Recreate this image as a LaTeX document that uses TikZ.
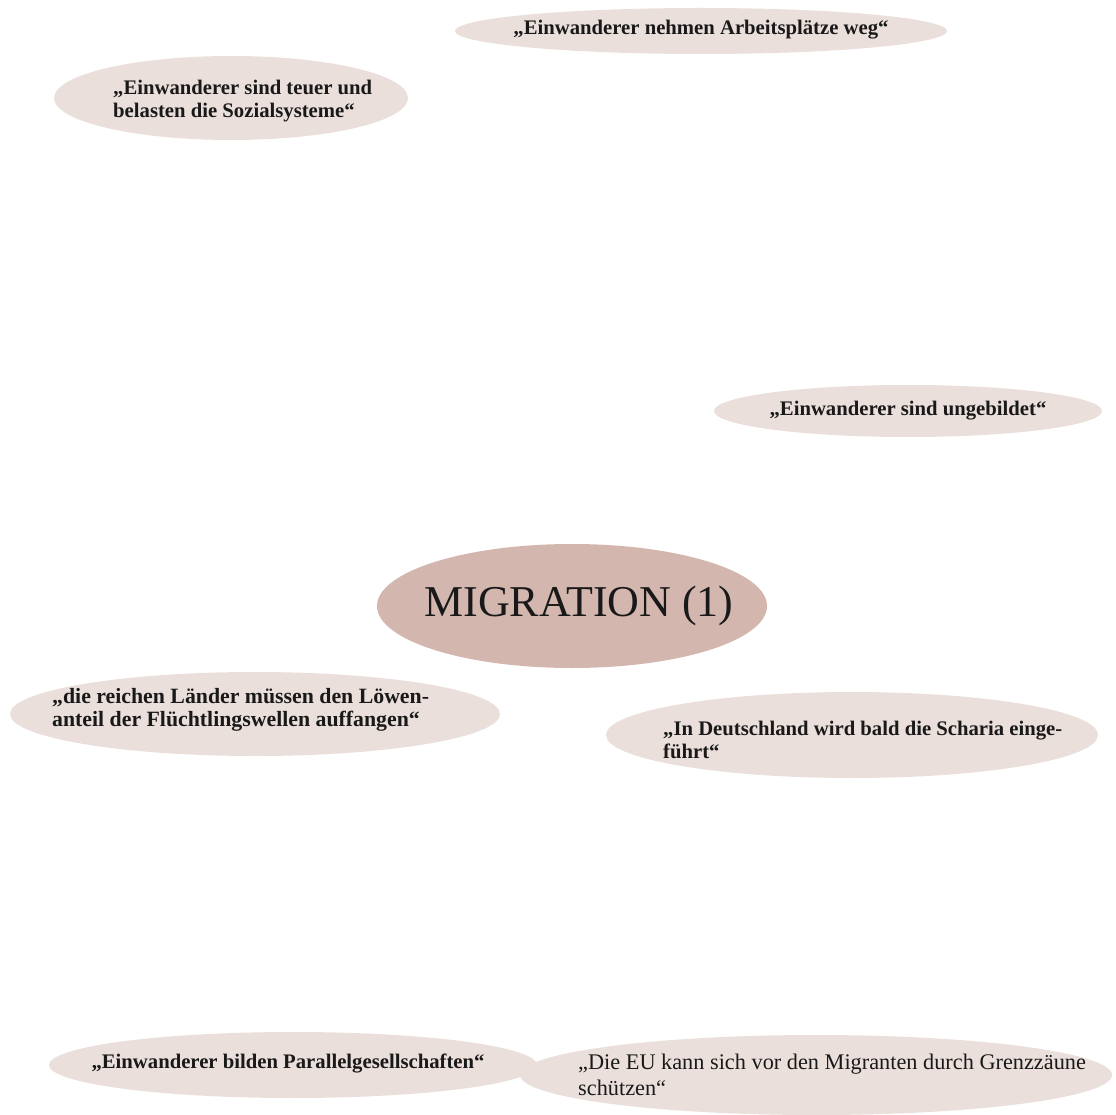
\documentclass[tikz,border=0pt]{standalone}
\usepackage{fontspec}
\setmainfont{Liberation Serif}
\usepackage{xcolor}
\usepackage{tikz}
\usetikzlibrary{positioning}
\definecolor{bubblepale}{RGB}{234,223,219}
\definecolor{bubblecore}{RGB}{211,183,175}

\begin{document}
\begin{tikzpicture}[x=1pt,y=-1pt,
  quote/.style={inner sep=0pt, font=\fontsize{20.7pt}{23.5pt}\selectfont\bfseries, text=black!90},
  widequote/.style={quote, font=\fontsize{21.8pt}{23.5pt}\selectfont\bfseries},
  plainquote/.style={inner sep=0pt, font=\fontsize{22.3pt}{25.5pt}\selectfont, text=black!90},
  title/.style={inner sep=0pt, font=\fontsize{44pt}{50pt}\selectfont, text=black!90}]
\useasboundingbox (0,0) rectangle (1116,1115);
\fill[white] (0,0) rectangle (1116,1115);

\fill[bubblepale] (701,31) ellipse (246 and 23);
\fill[bubblepale] (231,98) ellipse (177 and 42);
\fill[bubblepale] (908,411) ellipse (194 and 26);
\fill[bubblecore] (572,606) ellipse (195 and 62);
\fill[bubblepale] (255,714) ellipse (245 and 42);
\fill[bubblepale] (852,735) ellipse (246 and 43);
\fill[bubblepale] (293,1065) ellipse (244 and 33);
\fill[bubblepale] (816,1075) ellipse (296 and 40);

\node (jobs) [quote] at (701,30) {„Einwanderer nehmen Arbeitsplätze weg“};
\node (costly) [quote, anchor=west, align=left] at (113,101) {„Einwanderer sind teuer und\\belasten die Sozialsysteme“};
\node (uneducated) [quote] at (908,411) {„Einwanderer sind ungebildet“};
\node (migration) [title] at (579,606) {MIGRATION (1)};
\node (richstates) [widequote, anchor=west, align=left] at (52,710) {„die reichen Länder müssen den Löwen-\\anteil der Flüchtlingswellen auffangen“};
\node (sharia) [quote, anchor=west, align=left] at (663,740) {„In Deutschland wird bald die Scharia einge-\\führt“};
\node (parallel) [quote] at (288,1063) {„Einwanderer bilden Parallelgesellschaften“};
\node (fences) [plainquote, anchor=west, align=left] at (578,1075) {„Die EU kann sich vor den Migranten durch Grenzzäune\\schützen“};
\end{tikzpicture}
\end{document}
